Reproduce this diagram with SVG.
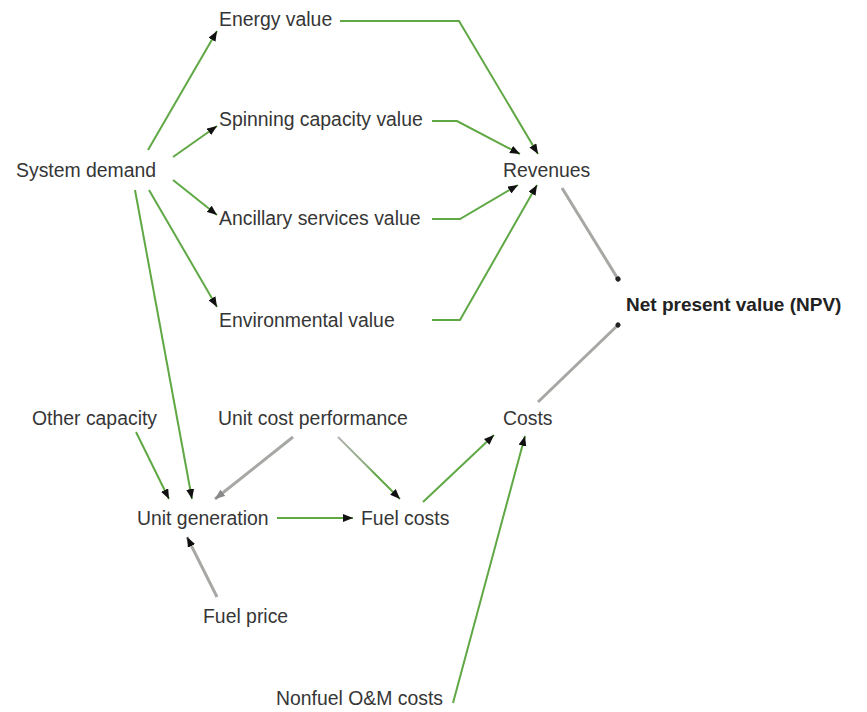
<svg xmlns="http://www.w3.org/2000/svg" width="867" height="712" viewBox="0 0 867 712">
<style>
  text { font-family: "Liberation Sans", Arial, sans-serif; font-size: 19.4px; fill: #363636; }
  text.bold { font-weight: bold; fill: #222; font-size: 19px; }
  .g { fill: none; stroke: #5fa844; stroke-width: 2; }
  .gr { fill: none; stroke: #a6a8a4; stroke-width: 3; filter: url(#soft); }
  .arr { marker-end: url(#ah); }
  .arrg { marker-end: url(#ahg); }
  .dot { marker-end: url(#dot); }
</style>
<defs>
  <marker id="ah" markerUnits="userSpaceOnUse" viewBox="0 0 10 8" refX="10" refY="4" markerWidth="10" markerHeight="8" orient="auto">
    <path d="M0,0 L10,4 L0,8 z" fill="#111"/>
  </marker>
  <marker id="ahg" markerUnits="userSpaceOnUse" viewBox="0 0 10 8" refX="10" refY="4" markerWidth="10" markerHeight="8" orient="auto">
    <path d="M0,0 L10,4 L0,8 z" fill="#888"/>
  </marker>
  <marker id="dot" markerUnits="userSpaceOnUse" viewBox="0 0 6 6" refX="3" refY="3" markerWidth="6" markerHeight="6" orient="auto">
    <circle cx="3" cy="3" r="2.6" fill="#222"/>
  </marker>
  <filter id="soft" x="-10%" y="-10%" width="120%" height="120%">
    <feGaussianBlur stdDeviation="0.6"/>
  </filter>
  <linearGradient id="gg" gradientUnits="userSpaceOnUse" x1="338" y1="437" x2="400" y2="498">
    <stop offset="0" stop-color="#b0b2ae"/>
    <stop offset="0.45" stop-color="#8fae84"/>
    <stop offset="0.6" stop-color="#5fa844"/>
    <stop offset="1" stop-color="#5fa844"/>
  </linearGradient>
</defs>

<g id="connectors">
  <line class="g arr" x1="148" y1="150" x2="217" y2="31"/>
  <line class="g arr" x1="173" y1="157" x2="217" y2="126"/>
  <line class="g arr" x1="173" y1="180" x2="217" y2="215"/>
  <line class="g arr" x1="149" y1="190" x2="217" y2="307"/>
  <line class="g arr" x1="135" y1="190" x2="192" y2="499"/>
  <polyline class="g arr" points="340,21 459,21 538,154"/>
  <polyline class="g arr" points="432,121 457,121 520,154"/>
  <polyline class="g arr" points="432,219 460,219 518,185"/>
  <polyline class="g arr" points="432,320 460,320 537,185"/>
  <line class="gr dot" x1="562" y1="188" x2="618" y2="279"/>
  <line class="gr dot" x1="538" y1="402" x2="618" y2="325"/>
  <line class="g arr" x1="136" y1="432" x2="169" y2="499"/>
  <line class="gr arrg" x1="293" y1="437" x2="215" y2="499"/>
  <line class="arr" x1="338" y1="437" x2="400" y2="499" stroke="url(#gg)" stroke-width="2" fill="none"/>
  <line class="g arr" x1="277" y1="518" x2="353" y2="518"/>
  <line class="g arr" x1="423" y1="502" x2="494" y2="435"/>
  <line class="g arr" x1="453" y1="703" x2="525" y2="436"/>
  <line class="gr arr" x1="217" y1="597" x2="187" y2="537"/>
</g>

<g id="energy-value"><text x="219" y="26">Energy value</text></g>
<g id="spinning-capacity-value"><text x="219" y="126">Spinning capacity value</text></g>
<g id="system-demand"><text x="16" y="177">System demand</text></g>
<g id="revenues"><text x="503" y="177">Revenues</text></g>
<g id="ancillary-services-value"><text x="219" y="225">Ancillary services value</text></g>
<g id="npv"><text class="bold" x="626" y="311">Net present value (NPV)</text></g>
<g id="environmental-value"><text x="219" y="327">Environmental value</text></g>
<g id="other-capacity"><text x="32" y="425">Other capacity</text></g>
<g id="unit-cost-performance"><text x="218" y="425">Unit cost performance</text></g>
<g id="costs"><text x="503" y="425">Costs</text></g>
<g id="unit-generation"><text x="137" y="525">Unit generation</text></g>
<g id="fuel-costs"><text x="361" y="525">Fuel costs</text></g>
<g id="fuel-price"><text x="203" y="623">Fuel price</text></g>
<g id="nonfuel-om-costs"><text x="276" y="705">Nonfuel O&amp;M costs</text></g>
</svg>
